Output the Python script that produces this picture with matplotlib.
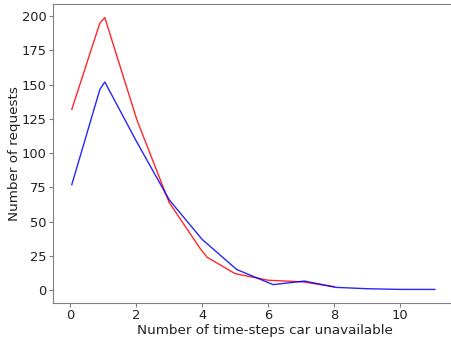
import matplotlib
matplotlib.use("Agg")
import matplotlib.pyplot as plt

# values
red_x = [0.05, 0.9, 1.05, 2.02, 3.0, 3.95, 4.15, 5.0, 6.0, 7.05, 8.0]
red_y = [132, 195, 199, 124.5, 64, 30, 24, 12, 7.2, 6, 2.5]

blue_x = [0.05, 0.9, 1.05, 2.0, 3.0, 4.0, 5.05, 6.15, 7.1, 8.05, 9.0, 10.0, 11.05]
blue_y = [77, 146.5, 152, 109, 66, 37, 15, 4, 6.6, 2, 1, 0.5, 0.5]

SPINE = "#808080"
TEXT = "#222222"
FS = 9.7

fig = plt.figure(figsize=(4.52, 3.39), dpi=100)
# the reference is cropped on the right: the axes run past the picture edge
ax = fig.add_axes([53 / 452, 1 - 303 / 339, 424 / 452, 299 / 339])

ax.plot(red_x, red_y, color="red", linewidth=1.0, alpha=0.85)
ax.plot(blue_x, blue_y, color="blue", linewidth=1.0, alpha=0.85)

ax.set_xlim(-0.52, 12.33)
ax.set_xticks([0, 2, 4, 6, 8, 10])
ax.set_yticks([0, 25, 50, 75, 100, 125, 150, 175, 200])
ax.set_xlabel("Number of time-steps car unavailable", fontsize=FS, labelpad=1, color=TEXT)
ax.set_ylabel("Number of requests", fontsize=FS, labelpad=0.5, color=TEXT)
ax.tick_params(labelsize=9.4, color=SPINE, length=3, pad=1.5, labelcolor=TEXT)

for side in ("left", "bottom", "top"):
    ax.spines[side].set_color(SPINE)
ax.spines["right"].set_visible(False)

fig.savefig("out.png", dpi=100)
